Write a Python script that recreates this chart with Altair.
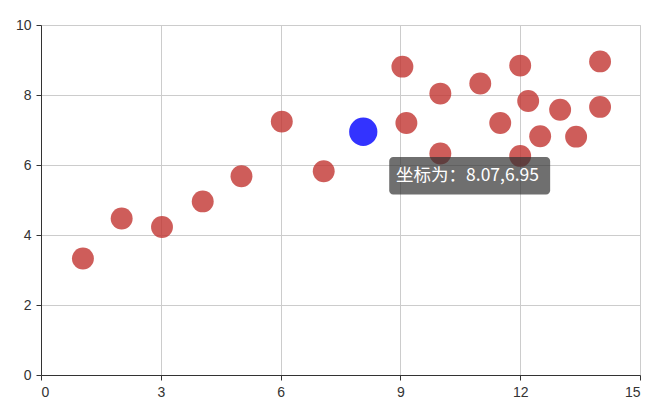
import altair as alt
import pandas as pd

xs = [10.0, 13.0, 9.05, 11.0, 14.0, 13.4, 10.0, 14.0, 12.5, 9.15, 11.5,
      3.03, 12.2, 2.02, 1.05, 4.05, 6.03, 12.0, 12.0, 7.08, 5.02]
ys = [8.04, 7.58, 8.81, 8.33, 7.66, 6.81, 6.33, 8.96, 6.82, 7.20, 7.20,
      4.23, 7.83, 4.47, 3.33, 4.96, 7.24, 6.26, 8.84, 5.82, 5.68]
hx, hy = [8.07], [6.95]
tip_label = ["坐标为：8.07,6.95"]
tip_box = {"x": [8.72], "x2": [12.75], "y": [6.23], "y2": [5.16]}
tip_text = {"x": [10.68], "y": [5.69]}

df = pd.DataFrame({"x": xs, "y": ys})
dh = pd.DataFrame({"x": hx, "y": hy})
dbox = pd.DataFrame(tip_box)
dtxt = pd.DataFrame({"x": tip_text["x"], "y": tip_text["y"], "t": tip_label})

xscale = alt.Scale(domain=[0, 15], nice=False, zero=True)
yscale = alt.Scale(domain=[0, 10], nice=False, zero=True)

common = dict(title=None, grid=True, gridColor="#cccccc",
              domainColor="#333333", tickColor="#333333", labelColor="#333333",
              labelFontSize=14, tickSize=5, labelFont="Liberation Sans")
xaxis = alt.Axis(values=[0, 3, 6, 9, 12, 15], labelPadding=5, **common)
yaxis = alt.Axis(values=[0, 2, 4, 6, 8, 10], labelPadding=5, **common)

pts = alt.Chart(df).mark_circle(size=480, color="#c23531", opacity=0.8).encode(
    x=alt.X("x:Q", scale=xscale, axis=xaxis),
    y=alt.Y("y:Q", scale=yscale, axis=yaxis),
)
hl = alt.Chart(dh).mark_circle(size=800, color="#0000ff", opacity=0.8).encode(
    x="x:Q", y="y:Q")
box = alt.Chart(dbox).mark_rect(color="#323232", opacity=0.7, cornerRadius=4).encode(
    x="x:Q", x2="x2:Q", y="y:Q", y2="y2:Q")
txt = alt.Chart(dtxt).mark_text(color="white", fontSize=17.5, font="Noto Sans CJK SC",
                                 align="center", baseline="middle").encode(
    x="x:Q", y="y:Q", text="t:N")

chart = alt.layer(pts, hl, box, txt).properties(
    width=599, height=350,
    autosize=alt.AutoSizeParams(type="none"),
    padding={"left": 33, "top": 17, "right": 10, "bottom": 30},
).configure_view(stroke="#cccccc", strokeWidth=1)

chart.save("out.html", embed_options={"renderer": "svg", "actions": False})
